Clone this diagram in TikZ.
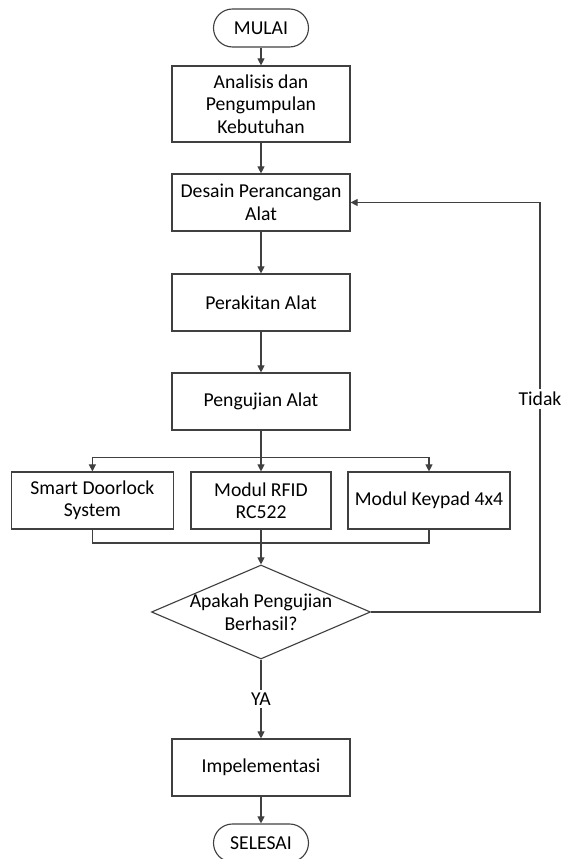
\documentclass[tikz,border=0pt]{standalone}
\usepackage{fontspec}
\setmainfont{Carlito}
\usetikzlibrary{shapes.geometric,arrows.meta}

\begin{document}
\begin{tikzpicture}[
    font=\fontsize{14}{16}\selectfont,
    garis/.style={draw=black!75, line width=0.8pt},
    terminal/.style={garis, rectangle, rounded corners=0.475cm, minimum width=2.375cm, minimum height=0.95cm},
    proses/.style={garis, rectangle, align=center, inner ysep=3pt, minimum width=4.45cm, minimum height=1.425cm},
    keputusan/.style={garis, diamond, aspect=2.33, inner sep=0pt, minimum width=5.475cm, minimum height=2.35cm},
    panah/.style={garis, -{Triangle[length=5pt,width=5pt]}},
    labelgaris/.style={fill=white, inner sep=2pt}
]
    \useasboundingbox (0,0) rectangle (14.1,21.475);

    % Alur utama
    \node[terminal] (mulai) at (6.525,20.775) {MULAI};
    \node[proses,minimum height=1.9cm] (analisis) at (6.525,18.875) {Analisis dan\\Pengumpulan\\Kebutuhan};
    \node[proses] (desain) at (6.525,16.4125) {Desain Perancangan\\Alat};
    \node[proses] (rakit) at (6.525,13.9125) {Perakitan Alat};
    \node[proses] (uji) at (6.525,11.4375) {Pengujian Alat};

    % Komponen yang diuji
    \node[proses,minimum width=4.04cm] (doorlock) at (2.31,8.9625) {Smart Doorlock\\System};
    \node[proses,minimum width=3.5cm] (rfid) at (6.525,8.9625) {Modul RFID\\RC522};
    \node[proses,minimum width=4.05cm] (keypad) at (10.725,8.9625) {Modul Keypad 4x4};

    % Keputusan dan akhir
    \node[keputusan, label={[align=center]center:Apakah Pengujian\\Berhasil?}] (cek) at (6.525,6.175) {};
    \node[proses] (impl) at (6.525,2.2875) {Impelementasi};
    \node[terminal] (selesai) at (6.525,0.4) {SELESAI};

    % Titik bantu
    \coordinate (cabang) at (6.525,10.03);
    \coordinate (gabung) at (6.525,7.9);
    \coordinate (balik) at (13.5,16.4125);

    % Panah alur utama
    \draw[panah] (mulai) -- (analisis);
    \draw[panah] (analisis) -- (desain);
    \draw[panah] (desain) -- (rakit);
    \draw[panah] (rakit) -- (uji);

    % Cabang ke komponen
    \draw[panah] (uji) -- (rfid);
    \draw[panah] (cabang) -| (doorlock);
    \draw[panah] (cabang) -| (keypad);

    % Gabung ke keputusan
    \draw[garis] (doorlock) |- (gabung);
    \draw[garis] (keypad) |- (gabung);
    \draw[panah] (rfid) -- (cek);

    % Hasil keputusan
    \draw[panah] (cek) -- node[labelgaris] {YA} (impl);
    \draw[panah] (cek) -| node[pos=0.76,labelgaris] {Tidak} (balik) -- (desain);
    \draw[panah] (impl) -- (selesai);
\end{tikzpicture}
\end{document}
